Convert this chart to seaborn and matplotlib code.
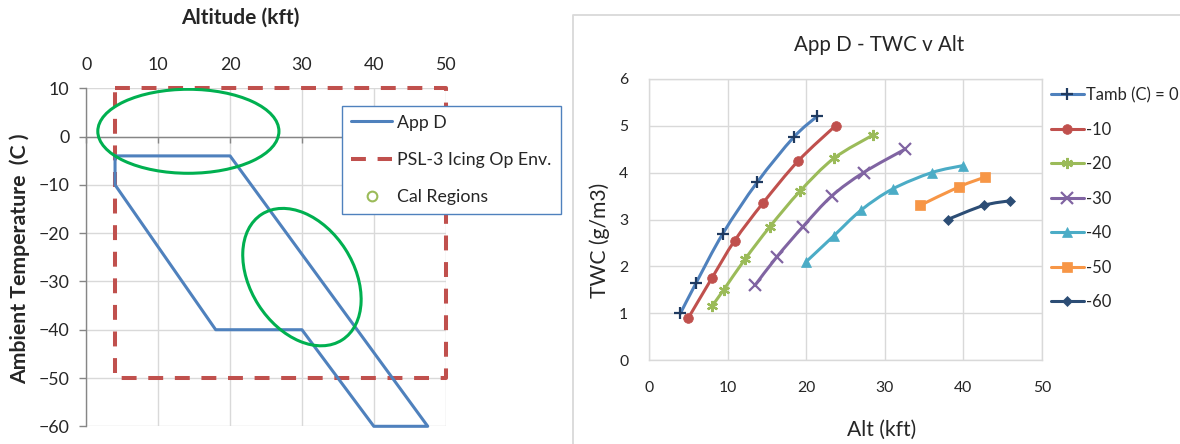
import numpy as np
import pandas as pd
import matplotlib
matplotlib.use("Agg")
import matplotlib.pyplot as plt
import seaborn as sns
from matplotlib.path import Path
from matplotlib.patches import PathPatch, Ellipse
from matplotlib.lines import Line2D
import matplotlib.transforms as mtransforms

# ---------------- data: left chart ----------------
appd_alt = [4, 20, 47.5, 40, 30, 18, 4, 4]
appd_temp = [-4, -4, -60, -60, -40, -40, -10, -4]
psl_alt = [4, 50, 50, 4, 4]
psl_temp = [10, 10, -50, -50, 10]
left_xticks = [0, 10, 20, 30, 40, 50]
left_yticks = [10, 0, -10, -20, -30, -40, -50, -60]
left_legend_labels = ["App D", "PSL-3 Icing Op Env.", "Cal Regions"]

# Cal regions (annotation ellipses)
cal1_center = (14.2, 1.1)      # data units
cal1_size = (25.2, 17.4)       # data units (width kft, height C)
cal2_center = (30.0, -29.1)    # data units
cal2_size_pt = (107.4, 74.3)   # points
cal2_angle = -57.4             # degrees

# ---------------- data: right chart ----------------
series_labels = ["Tamb (C) = 0", "-10", "-20", "-30", "-40", "-50", "-60"]
alt_t0 = [4.0, 6.0, 9.4, 13.8, 18.4, 21.4]
twc_t0 = [1.0, 1.65, 2.7, 3.8, 4.75, 5.2]
alt_t10 = [5.0, 8.0, 10.9, 14.5, 19.0, 23.75]
twc_t10 = [0.9, 1.75, 2.55, 3.35, 4.25, 5.0]
alt_t20 = [8.0, 9.5, 12.2, 15.4, 19.2, 23.5, 28.5]
twc_t20 = [1.15, 1.5, 2.15, 2.85, 3.6, 4.3, 4.8]
alt_t30 = [13.5, 16.25, 19.6, 23.25, 27.3, 32.6]
twc_t30 = [1.6, 2.2, 2.85, 3.5, 4.0, 4.5]
alt_t40 = [20.0, 23.5, 27.0, 31.0, 36.0, 40.0]
twc_t40 = [2.1, 2.65, 3.2, 3.65, 4.0, 4.15]
alt_t50 = [34.5, 39.5, 42.7]
twc_t50 = [3.3, 3.7, 3.9]
alt_t60 = [38.0, 42.6, 46.0]
twc_t60 = [3.0, 3.3, 3.4]
right_xticks = [0, 10, 20, 30, 40, 50]
right_yticks = [0, 1, 2, 3, 4, 5, 6]

series_alts = [alt_t0, alt_t10, alt_t20, alt_t30, alt_t40, alt_t50, alt_t60]
series_twcs = [twc_t0, twc_t10, twc_t20, twc_t30, twc_t40, twc_t50, twc_t60]

# ---------------- styles ----------------
line_colors = ["#4F81BD", "#C0504D", "#9BBB59", "#8064A2", "#4BACC6", "#F79646", "#2C4D75"]
marker_colors = ["#1F3A60", "#C0504D", "#9BBB59", "#8064A2", "#4BACC6", "#F79646", "#2C4D75"]
markers = ["+", "o", (6, 2, 0), "x", "^", "s", "D"]
marker_sizes = [8.5, 7, 8, 8.5, 7, 6.5, 5]

sns.set_style("white")
plt.rcParams["font.family"] = ["Lato", "DejaVu Sans"]

W, H = 1180, 444
fig = plt.figure(figsize=(W / 100, H / 100), dpi=100)

def fx(px):
    return px / W

def fy(py):
    return (H - py) / H

GRID = "#D9D9D9"
AXIS = "#868686"

# ================= LEFT CHART =================
axL = fig.add_axes([fx(86.3), fy(426.3), fx(445.7) - fx(86.3), fy(88.3) - fy(426.3)])
axL.set_xlim(0, 50)
axL.set_ylim(-60, 10)
axL.set_xticks(left_xticks)
axL.set_yticks(left_yticks)
axL.grid(True, color=GRID, linewidth=1)
axL.set_axisbelow(True)
for s in ["top", "right"]:
    axL.spines[s].set_visible(False)
axL.spines["left"].set_color(AXIS)
axL.spines["bottom"].set_color(AXIS)
axL.spines["bottom"].set_position(("data", 0))
axL.spines["left"].set_linewidth(1)
axL.spines["bottom"].set_linewidth(1)
axL.tick_params(axis="x", bottom=True, top=False, labelbottom=False, labeltop=True,
                direction="out", length=4.5, width=1, color=AXIS, labelsize=12.8, pad=6.5)
axL.tick_params(axis="y", left=True, direction="out", length=5, width=1, color=AXIS,
                labelsize=12.8, pad=7)

dfA = pd.DataFrame({"alt": appd_alt, "temp": appd_temp})
sns.lineplot(data=dfA, x="alt", y="temp", ax=axL, sort=False, estimator=None,
             color="#4F81BD", linewidth=2.2, clip_on=False, zorder=3)
dfP = pd.DataFrame({"alt": psl_alt, "temp": psl_temp})
sns.lineplot(data=dfP, x="alt", y="temp", ax=axL, sort=False, estimator=None,
             color="#C0504D", linewidth=2.9, clip_on=False, zorder=2)
axL.lines[-1].set_linestyle((0, (3.7, 2.9)))
axL.set_xlabel("")
axL.set_ylabel("")

e1 = Ellipse(cal1_center, cal1_size[0], cal1_size[1], fill=False,
             edgecolor="#00B050", linewidth=2.2, zorder=4)
axL.add_patch(e1)
tr2 = mtransforms.Affine2D().scale(fig.dpi / 72) + mtransforms.ScaledTranslation(
    cal2_center[0], cal2_center[1], axL.transData)
e2 = Ellipse((0, 0), cal2_size_pt[0], cal2_size_pt[1], angle=cal2_angle, fill=False,
             edgecolor="#00B050", linewidth=2.2, transform=tr2, zorder=4, clip_on=False)
axL.add_patch(e2)

hL = [Line2D([], [], color="#4F81BD", linewidth=2.2),
      Line2D([], [], color="#C0504D", linewidth=2.9, linestyle=(0, (3.7, 2.9))),
      Line2D([], [], linestyle="", marker="o", markersize=7, markerfacecolor="none",
             markeredgecolor="#9BBB59", markeredgewidth=1.5)]
legL = fig.legend(hL, left_legend_labels, loc="upper left",
                  bbox_to_anchor=(fx(342.3), fy(105.7)), borderaxespad=0,
                  fontsize=12.8, frameon=True, fancybox=False, framealpha=1,
                  edgecolor="#4F81BD", handlelength=2.3, handletextpad=0.3,
                  labelspacing=1.2, borderpad=0.5)
legL.get_frame().set_linewidth(1)

fig.text(fx(240), fy(18), "Altitude (kft)", ha="center", va="center",
         fontsize=15.0, fontweight="bold")
fig.text(fx(20), fy(259), "Ambient Temperature  (C )", ha="center", va="center",
         rotation=90, fontsize=15.3, fontweight="bold")

# ================= RIGHT CHART =================
# chart area border
fig.add_artist(Line2D([fx(573), fx(573), 1.0], [0.0, fy(15), fy(15)],
                      transform=fig.transFigure, color=GRID, linewidth=1.3))

axR = fig.add_axes([fx(649), fy(360.3), fx(1041.9) - fx(649), fy(78.7) - fy(360.3)])
axR.set_xlim(0, 50)
axR.set_ylim(0, 6)
axR.set_xticks(right_xticks)
axR.set_yticks(right_yticks)
axR.grid(True, color=GRID, linewidth=1)
axR.set_axisbelow(True)
for s in axR.spines.values():
    s.set_color(GRID)
    s.set_linewidth(1)
axR.tick_params(axis="both", length=0, labelsize=11.3)
axR.tick_params(axis="x", pad=15)
axR.tick_params(axis="y", pad=15)


def smooth_path(xs, ys):
    p = np.column_stack([xs, ys]).astype(float)
    n = len(p)
    verts = [p[0]]
    codes = [Path.MOVETO]
    for i in range(n - 1):
        p0 = p[i - 1] if i > 0 else p[i]
        p1 = p[i]
        p2 = p[i + 1]
        p3 = p[i + 2] if i + 2 < n else p[i + 1]
        verts += [p1 + (p2 - p0) / 6.0, p2 - (p3 - p1) / 6.0, p2]
        codes += [Path.CURVE4] * 3
    return Path(verts, codes)


hR = []
for lab, xs, ys, lc, mc, mk, ms in zip(series_labels, series_alts, series_twcs,
                                        line_colors, marker_colors, markers, marker_sizes):
    axR.add_patch(PathPatch(smooth_path(xs, ys), fill=False, edgecolor=lc,
                            linewidth=2.2, zorder=3, capstyle="round", joinstyle="round"))
    df = pd.DataFrame({"alt": xs, "twc": ys})
    filled = mk in ["o", "^", "s", "D"]
    kw = dict(marker=mk, markersize=ms, linestyle="", color=mc)
    if filled:
        kw.update(markerfacecolor=mc, markeredgecolor=mc, markeredgewidth=0.5)
    else:
        kw.update(markeredgecolor=mc, markeredgewidth=1.6)
    sns.lineplot(data=df, x="alt", y="twc", ax=axR, sort=False, estimator=None,
                 zorder=4, clip_on=False, **kw)
    hR.append(Line2D([], [], color=lc, linewidth=2.2, marker=mk, markersize=ms,
                     markerfacecolor=mc, markeredgecolor=mc,
                     markeredgewidth=(0.5 if filled else 1.6)))

axR.set_xlabel("Alt (kft)", fontsize=15.2)
axR.set_ylabel("TWC (g/m3)", fontsize=15.2)
axR.xaxis.label.set_va("center")
axR.yaxis.label.set_va("center")
axR.xaxis.set_label_coords((882 - 649) / 392.9, (360.3 - 430) / 281.6)
axR.yaxis.set_label_coords((600 - 649) / 392.9, (360.3 - 240) / 281.6)

fig.text(fx(879), fy(45), "App D - TWC v Alt", ha="center", va="center", fontsize=14.8)

legR = fig.legend(hR, series_labels, loc="upper left",
                  bbox_to_anchor=(fx(1050.5), fy(87)), borderaxespad=0, borderpad=0,
                  fontsize=11.9, frameon=False, handlelength=2.05, handletextpad=0.1,
                  labelspacing=1.12)

fig.savefig("out.png", dpi=100)
